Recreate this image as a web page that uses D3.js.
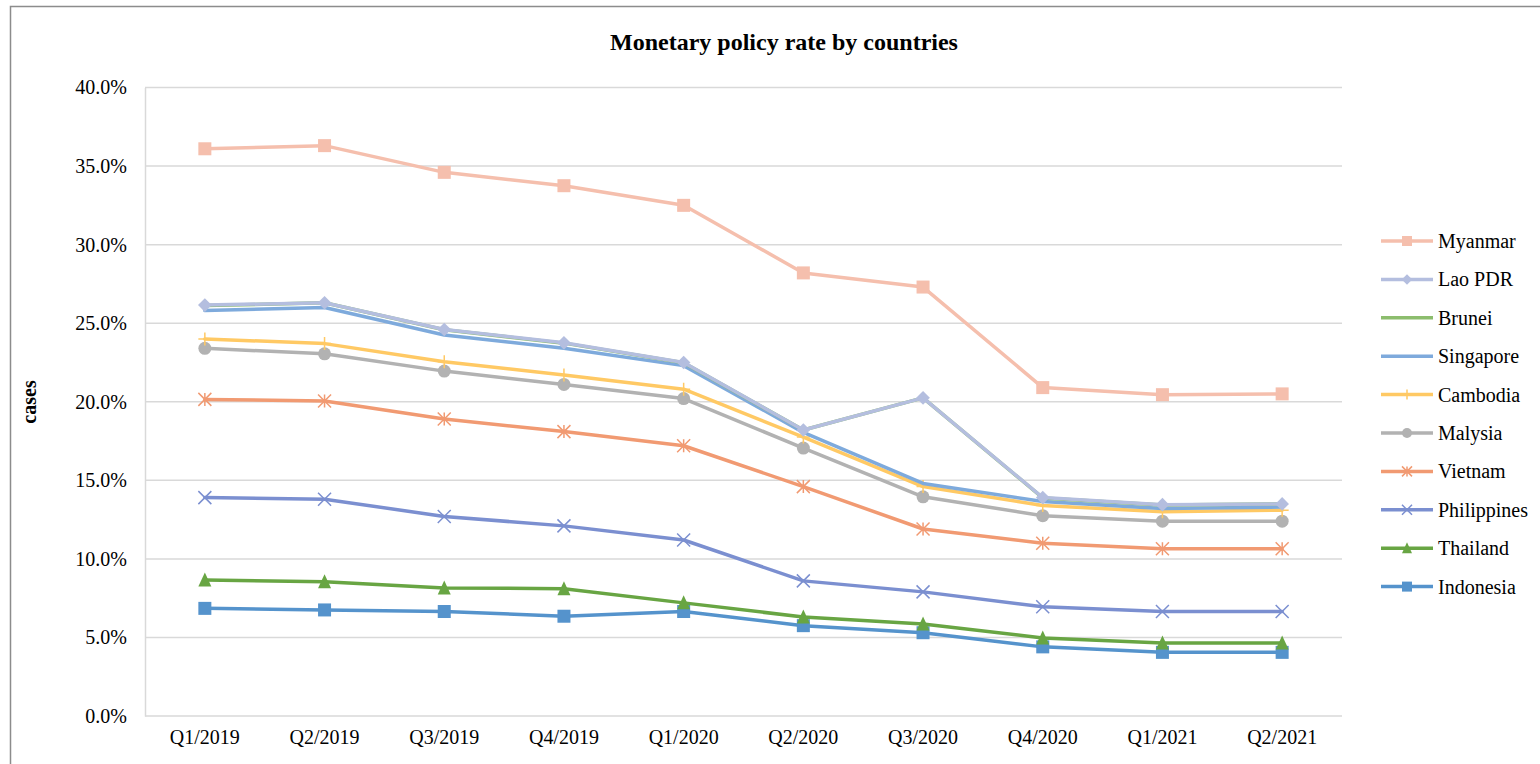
<!DOCTYPE html>
<html>
<head>
<meta charset="utf-8">
<script src="https://cdn.jsdelivr.net/npm/d3@7"></script>
<style>
  html, body { margin: 0; padding: 0; background: #ffffff; }
  svg { display: block; }
  text { font-family: "Liberation Serif", "Times New Roman", serif; fill: #000; }
</style>
</head>
<body>
<svg id="chart" width="1540" height="764"></svg>
<script>
// Quarters on the x axis
const quarters = ["Q1/2019", "Q2/2019", "Q3/2019", "Q4/2019", "Q1/2020",
                  "Q2/2020", "Q3/2020", "Q4/2020", "Q1/2021", "Q2/2021"];

// Policy rate per country, in percent
const myanmar     = [36.1, 36.3, 34.6, 33.75, 32.5, 28.2, 27.3, 20.9, 20.45, 20.5];
const laoPDR      = [26.15, 26.3, 24.6, 23.75, 22.5, 18.2, 20.25, 13.9, 13.45, 13.5];
const brunei      = [26.12, 26.3, 24.58, 23.73, 22.48, 18.2, 20.25, 13.88, 13.43, 13.5];
const singapore   = [25.8, 26.0, 24.25, 23.4, 22.3, 18.05, 14.8, 13.65, 13.2, 13.3];
const cambodia    = [24.0, 23.7, 22.55, 21.7, 20.8, 17.75, 14.6, 13.4, 13.0, 13.1];
const malysia     = [23.4, 23.05, 21.95, 21.1, 20.2, 17.05, 13.95, 12.75, 12.4, 12.4];
const vietnam     = [20.15, 20.05, 18.9, 18.1, 17.2, 14.6, 11.9, 11.0, 10.65, 10.65];
const philippines = [13.9, 13.8, 12.7, 12.1, 11.2, 8.6, 7.9, 6.95, 6.65, 6.65];
const thailand    = [8.65, 8.55, 8.15, 8.1, 7.2, 6.3, 5.85, 4.97, 4.65, 4.65];
const indonesia   = [6.85, 6.75, 6.65, 6.35, 6.65, 5.75, 5.3, 4.4, 4.05, 4.05];

// Y axis tick values
const yTicks = [0, 5, 10, 15, 20, 25, 30, 35, 40];

// Series in legend order, with line colour and marker type
const series = [
  { name: "Myanmar",     values: myanmar,     color: "#f5bfad", marker: "square" },
  { name: "Lao PDR",     values: laoPDR,      color: "#b4bedf", marker: "diamond" },
  { name: "Brunei",      values: brunei,      color: "#8cbd6d", marker: "none" },
  { name: "Singapore",   values: singapore,   color: "#7eaadc", marker: "none" },
  { name: "Cambodia",    values: cambodia,    color: "#ffc964", marker: "plus" },
  { name: "Malysia",     values: malysia,     color: "#b2b2b2", marker: "circle" },
  { name: "Vietnam",     values: vietnam,     color: "#f19a72", marker: "star" },
  { name: "Philippines", values: philippines, color: "#7b8fd0", marker: "cross" },
  { name: "Thailand",    values: thailand,    color: "#68a543", marker: "triangle" },
  { name: "Indonesia",   values: indonesia,   color: "#5593cc", marker: "square" }
];

const svg = d3.select("#chart");

// Outer chart frame
svg.append("rect")
  .attr("x", 10.5).attr("y", 6.5)
  .attr("width", 1600).attr("height", 800)
  .attr("fill", "#fff").attr("stroke", "#8c8c8c").attr("stroke-width", 1.5);

const plot = { left: 145, right: 1342, top: 87.5, bottom: 716 };

const x = d3.scaleBand().domain(quarters).range([plot.left, plot.right]).padding(0);
const cx = q => x(q) + x.bandwidth() / 2;
const y = d3.scaleLinear().domain([0, 40]).range([plot.bottom, plot.top]);

// Horizontal gridlines
svg.append("g").selectAll("line")
  .data(yTicks)
  .join("line")
  .attr("x1", plot.left).attr("x2", plot.right)
  .attr("y1", d => y(d)).attr("y2", d => y(d))
  .attr("stroke", "#d9d9d9").attr("stroke-width", 1.5);

const serif = "'Liberation Serif', 'Times New Roman', serif";

// Y axis
const yAxis = svg.append("g")
  .attr("transform", `translate(${plot.left},0)`)
  .call(d3.axisLeft(y).tickValues(yTicks).tickSize(0).tickPadding(18)
        .tickFormat(d => d.toFixed(1) + "%"));
yAxis.attr("font-family", serif);
yAxis.select(".domain").attr("stroke", "#d9d9d9").attr("stroke-width", 1.5);
yAxis.selectAll("text").style("font-size", "20px").style("font-family", serif);

// X axis labels
const xAxis = svg.append("g")
  .attr("transform", `translate(0,${plot.bottom})`)
  .call(d3.axisBottom(x).tickSize(0).tickPadding(14));
xAxis.attr("font-family", serif);
xAxis.select(".domain").remove();
xAxis.selectAll("text").style("font-size", "20px").style("font-family", serif);

// Title
svg.append("text")
  .attr("x", 784).attr("y", 50)
  .attr("text-anchor", "middle")
  .style("font-size", "24px").style("font-weight", "bold")
  .text("Monetary policy rate by countries");

// Y axis title
svg.append("text")
  .attr("transform", "translate(36,402) rotate(-90)")
  .attr("text-anchor", "middle")
  .style("font-size", "20px").style("font-weight", "bold")
  .text("cases");

// Marker drawing helper
function drawMarker(g, type, color, s) {
  const h = s / 2;
  if (type === "square") {
    g.append("rect").attr("x", -h).attr("y", -h).attr("width", s).attr("height", s)
      .attr("fill", color);
  } else if (type === "diamond") {
    const d = h * 1.05;
    g.append("path").attr("d", `M0,${-d}L${d},0L0,${d}L${-d},0Z`).attr("fill", color);
  } else if (type === "circle") {
    g.append("circle").attr("r", h).attr("fill", color);
  } else if (type === "triangle") {
    g.append("path").attr("d", `M0,${-h - 1}L${h},${h}L${-h},${h}Z`).attr("fill", color);
  } else if (type === "plus") {
    g.append("path").attr("d", `M0,${-h}V${h}M${-h},0H${h}`)
      .attr("stroke", color).attr("stroke-width", 1.5).attr("fill", "none");
  } else if (type === "cross") {
    g.append("path").attr("d", `M${-h},${-h}L${h},${h}M${-h},${h}L${h},${-h}`)
      .attr("stroke", color).attr("stroke-width", 1.5).attr("fill", "none");
  } else if (type === "star") {
    g.append("path").attr("d", `M${-h},${-h}L${h},${h}M${-h},${h}L${h},${-h}M0,${-h}V${h}`)
      .attr("stroke", color).attr("stroke-width", 1.5).attr("fill", "none");
  }
}

const line = d3.line()
  .x((d, i) => cx(quarters[i]))
  .y(d => y(d));

// Lines and markers, last legend entry drawn first
const drawOrder = series.slice().reverse();
const lines = svg.append("g");
drawOrder.forEach(s => {
  const g = lines.append("g");
  g.append("path")
    .attr("d", line(s.values))
    .attr("fill", "none")
    .attr("stroke", s.color)
    .attr("stroke-width", 3.5)
    .attr("stroke-linejoin", "round")
    .attr("stroke-linecap", "round");
  s.values.forEach((v, i) => {
    const m = g.append("g").attr("transform", `translate(${cx(quarters[i])},${y(v)})`);
    drawMarker(m, s.marker, s.color, 13);
  });
});

// Legend
const legend = svg.append("g").attr("transform", "translate(1381,241)");
series.forEach((s, i) => {
  const row = legend.append("g").attr("transform", `translate(0,${i * 38.4})`);
  row.append("line").attr("x1", 0).attr("x2", 52).attr("y1", 0).attr("y2", 0)
    .attr("stroke", s.color).attr("stroke-width", 3.5);
  const m = row.append("g").attr("transform", "translate(26,0)");
  drawMarker(m, s.marker, s.color, 10);
  row.append("text").attr("x", 57).attr("y", 0).attr("dy", "0.35em")
    .style("font-size", "20px").text(s.name);
});
</script>
</body>
</html>
